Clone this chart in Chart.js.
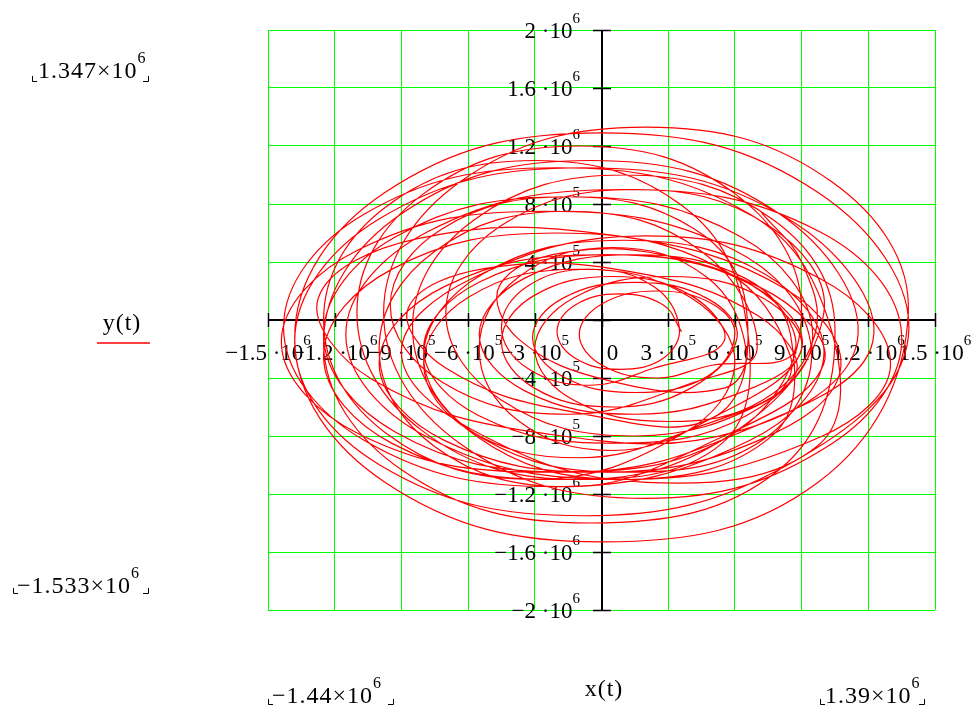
<!DOCTYPE html>
<html>
<head>
<meta charset="utf-8">
<script src="https://cdn.jsdelivr.net/npm/chart.js@4.4.0/dist/chart.umd.min.js"></script>
<style>
  html, body { margin: 0; padding: 0; background: #fff; }
  #wrap { width: 974px; height: 708px; }
</style>
</head>
<body>
<div id="wrap"><canvas id="myChart" width="974" height="708"></canvas></div>
<script>
// trajectory x(t), y(t), in units of 1e5 (one loop per row)
const trajX = [
  3.6, 2.78, 0.8, -1.18, -2.0, -1.18, 0.8, 2.78,
  3.5, 2.33, -0.5, -3.33, -4.5, -3.33, -0.5, 2.33,
  5.5, 4.04, 0.5, -3.04, -4.5, -3.04, 0.5, 4.04,
  6.1, 4.75, 1.5, -1.75, -3.1, -1.75, 1.5, 4.75,
  6.0, 4.97, 2.5, 0.03, -1.0, 0.03, 2.5, 4.97,
  8.58, 7.74, 3.54, -1.56, -4.58, -3.74, 0.46, 5.56,
  6.5, 4.74, 0.5, -3.74, -5.5, -3.74, 0.5, 4.74,
  9.0, 6.51, 0.5, -5.51, -8.0, -5.51, 0.5, 6.51,
  9.5, 6.28, -1.5, -9.28, -12.5, -9.28, -1.5, 6.28,
  12.2, 8.39, -0.8, -9.99, -13.8, -9.99, -0.8, 8.39,
  13.8, 9.76, 0.0, -9.76, -13.8, -9.76, 0.0, 9.76,
  13.8, 10.34, 2.0, -6.34, -9.8, -6.34, 2.0, 10.34,
  13.5, 9.84, 1.0, -7.84, -11.5, -7.84, 1.0, 9.84,
  13.0, 9.78, 2.0, -5.78, -9.0, -5.78, 2.0, 9.78,
  10.3, 6.7, -2.0, -10.7, -14.3, -10.7, -2.0, 6.7,
  10.0, 7.36, 1.0, -5.36, -8.0, -5.36, 1.0, 7.36,
  9.4, 5.91, -2.5, -10.91, -14.4, -10.91, -2.5, 5.91,
  9.0, 6.07, -1.0, -8.07, -11.0, -8.07, -1.0, 6.07,
  10.0, 7.51, 1.5, -4.51, -7.0, -4.51, 1.5, 7.51,
  8.5, 5.42, -2.0, -9.42, -12.5, -9.42, -2.0, 5.42,
  6.5, 3.72, -3.0, -9.72, -12.5, -9.72, -3.0, 3.72,
  6.0, 3.95, -1.0, -5.95, -8.0, -5.95, -1.0, 3.95,
  8.69, 7.06, 1.30, -5.22, -8.69, -7.06, -1.30, 5.22,
  6.5, 4.16, -1.5, -7.16, -9.5, -7.16, -1.5, 4.16,
  7.0, 4.51, -1.5, -7.51, -10.0, -7.51, -1.5, 4.51,
  10.0, 7.07, 0.0, -7.07, -10.0, -7.07, 0.0, 7.07,
  10.74, 8.33, 0.46, -8.27, -12.74, -10.33, -2.46, 6.27,
  11.5, 7.98, -0.5, -8.98, -12.5, -8.98, -0.5, 7.98,
  10.5, 7.72, 1.0, -5.72, -8.5, -5.72, 1.0, 7.72,
  8.5, 6.45, 1.5, -3.45, -5.5, -3.45, 1.5, 6.45,
  9.0, 7.24, 3.0, -1.24, -3.0, -1.24, 3.0, 7.24,
  9.6, 9.0, 7.2
];
const trajY = [
  -0.8, 1.04, 1.8, 1.04, -0.8, -2.64, -3.4, -2.64,
  -0.5, 2.33, 3.5, 2.33, -0.5, -3.33, -4.5, -3.33,
  -1.5, 1.68, 3.0, 1.68, -1.5, -4.68, -6.0, -4.68,
  -1.2, 1.49, 2.6, 1.49, -1.2, -3.89, -5.0, -3.89,
  -1.0, 1.12, 2.0, 1.12, -1.0, -3.12, -4.0, -3.12,
  -2.39, 1.30, 4.23, 4.68, 2.39, -1.30, -4.23, -4.68,
  -2.0, 2.95, 5.0, 2.95, -2.0, -6.95, -9.0, -6.95,
  -2.0, 2.6, 4.5, 2.6, -2.0, -6.6, -8.5, -6.6,
  -1.0, 5.72, 8.5, 5.72, -1.0, -7.72, -10.5, -7.72,
  -1.5, 6.98, 10.5, 6.98, -1.5, -9.98, -13.5, -9.98,
  -1.2, 8.77, 12.9, 8.77, -1.2, -11.17, -15.3, -11.17,
  0.5, 9.55, 13.3, 9.55, 0.5, -8.55, -12.3, -8.55,
  -1.0, 6.07, 9.0, 6.07, -1.0, -8.07, -11.0, -8.07,
  -3.0, 2.9, 5.8, 2.9, -2.2, -7.6, -11.2, -8.6,
  -0.5, 7.28, 10.5, 7.28, -0.5, -8.28, -11.5, -8.28,
  -2.5, 3.16, 5.5, 3.16, -2.5, -8.16, -10.5, -8.16,
  -1.5, 4.86, 7.5, 4.86, -1.5, -7.86, -10.5, -7.86,
  0.5, 8.63, 12.0, 8.63, 0.5, -7.63, -11.0, -7.63,
  0.5, 6.51, 9.0, 6.51, 0.5, -5.51, -8.0, -5.51,
  -2.5, 3.51, 6.0, 3.51, -2.5, -8.51, -11.0, -8.51,
  0.0, 7.78, 11.0, 7.78, 0.0, -7.78, -11.0, -7.78,
  -3.0, 1.6, 3.5, 1.6, -3.0, -7.6, -9.5, -7.6,
  -3.83, 0.27, 3.33, 3.56, 0.83, -3.26, -6.33, -6.56,
  1.0, 6.3, 8.5, 6.3, 1.0, -4.3, -6.5, -4.3,
  -2.0, 4.72, 7.5, 4.72, -2.0, -8.72, -11.5, -8.72,
  -3.0, 2.3, 4.5, 2.3, -3.0, -8.3, -10.5, -8.3,
  -3.50, 2.08, 5.85, 5.61, 1.50, -4.08, -7.85, -7.61,
  -1.5, 7.34, 11.0, 7.34, -1.5, -10.34, -14.0, -10.34,
  -0.5, 6.92, 10.0, 6.92, -0.5, -7.92, -11.0, -7.92,
  -1.0, 2.89, 4.5, 2.89, -1.0, -4.89, -6.5, -4.89,
  -2.0, 1.54, 3.0, 1.54, -2.0, -5.54, -7.0, -5.54,
  -1.0, 4.0, 7.4
];

// axis ticks
const xTicks = [-1.5e6, -1.2e6, -9e5, -6e5, -3e5, 0, 3e5, 6e5, 9e5, 1.2e6, 1.5e6];
const xTickMant = ["\u22121.5", "\u22121.2", "\u22129", "\u22126", "\u22123", "0", "3", "6", "9", "1.2", "1.5"];
const xTickExp = ["6", "6", "5", "5", "5", "", "5", "5", "5", "6", "6"];
const yTicks = [-2e6, -1.6e6, -1.2e6, -8e5, -4e5, 0, 4e5, 8e5, 1.2e6, 1.6e6, 2e6];
const yTickMant = ["\u22122", "\u22121.6", "\u22121.2", "\u22128", "\u22124", "", "4", "8", "1.2", "1.6", "2"];
const yTickExp = ["6", "6", "6", "5", "5", "", "5", "5", "6", "6", "6"];

// plot range readouts
const yMaxText = ["1.347", "6"];
const yMinText = ["\u22121.533", "6"];
const xMinText = ["\u22121.44", "6"];
const xMaxText = ["1.39", "6"];

const points = trajX.map((v, i) => ({ x: v * 1e5, y: trajY[i] * 1e5 }));

const SERIF = '"Liberation Serif", "Times New Roman", serif';

function drawSci(ctx, mant, sep, exp, x, base, size, supSize, align, spacing) {
  ctx.letterSpacing = (spacing || 0) + "px";
  ctx.font = size + "px " + SERIF;
  const main = exp ? mant + sep : mant;
  const w1 = ctx.measureText(main).width;
  ctx.font = supSize + "px " + SERIF;
  const w2 = exp ? ctx.measureText(exp).width : 0;
  let sx = x;
  if (align === "center") sx = x - (w1 + w2) / 2;
  if (align === "right") sx = x - (w1 + w2);
  ctx.textAlign = "left";
  ctx.textBaseline = "alphabetic";
  ctx.font = size + "px " + SERIF;
  ctx.fillText(main, sx, base);
  if (exp) {
    ctx.font = supSize + "px " + SERIF;
    ctx.fillText(exp, sx + w1, base - 15);
  }
  ctx.letterSpacing = "0px";
}

function drawBrackets(ctx, left, right, bottom) {
  ctx.beginPath();
  ctx.moveTo(left + 0.5, bottom - 5);
  ctx.lineTo(left + 0.5, bottom + 0.5);
  ctx.lineTo(left + 5, bottom + 0.5);
  ctx.moveTo(right - 5, bottom + 0.5);
  ctx.lineTo(right + 0.5, bottom + 0.5);
  ctx.lineTo(right + 0.5, bottom - 5);
  ctx.stroke();
}

const mathcadAxes = {
  id: "mathcadAxes",
  beforeDatasetsDraw(chart) {
    const { ctx, chartArea: a, scales } = chart;
    const x0 = Math.round(scales.x.getPixelForValue(0));
    const y0 = Math.round(scales.y.getPixelForValue(0));
    ctx.save();
    ctx.strokeStyle = "#000";
    ctx.lineWidth = 2;
    ctx.beginPath();
    ctx.moveTo(a.left, y0);
    ctx.lineTo(a.right, y0);
    ctx.moveTo(x0, a.top);
    ctx.lineTo(x0, a.bottom);
    ctx.stroke();

    ctx.lineWidth = 1.5;
    ctx.beginPath();
    xTicks.forEach((v) => {
      const px = Math.round(scales.x.getPixelForValue(v)) + 0.5;
      ctx.moveTo(px, y0 - 7);
      ctx.lineTo(px, y0 + 7);
    });
    yTicks.forEach((v) => {
      const py = Math.round(scales.y.getPixelForValue(v)) + 0.5;
      ctx.moveTo(x0 - 9, py);
      ctx.lineTo(x0 + 9, py);
    });
    ctx.stroke();

    ctx.fillStyle = "#000";
    xTicks.forEach((v, i) => {
      const px = scales.x.getPixelForValue(v);
      if (v === 0) {
        drawSci(ctx, "0", "", "", px + 11, y0 + 40, 23, 15, "center");
      } else {
        drawSci(ctx, xTickMant[i], " \u00b710", xTickExp[i], px, y0 + 40, 23, 15, "center");
      }
    });
    yTicks.forEach((v, i) => {
      if (!yTickMant[i]) return;
      const py = scales.y.getPixelForValue(v);
      drawSci(ctx, yTickMant[i], " \u00b710", yTickExp[i], 580, py + 8, 23, 15, "right");
    });
    ctx.restore();
  },
  afterDraw(chart) {
    const { ctx } = chart;
    ctx.save();
    ctx.fillStyle = "#000";
    ctx.strokeStyle = "#000";
    ctx.lineWidth = 1;

    drawSci(ctx, yMaxText[0], "\u00d710", yMaxText[1], 38, 78, 24, 16, "left", 1);
    drawBrackets(ctx, 32, 148, 81);
    drawSci(ctx, yMinText[0], "\u00d710", yMinText[1], 17, 593, 24, 16, "left", 1);
    drawBrackets(ctx, 13, 148, 593);
    drawSci(ctx, xMinText[0], "\u00d710", xMinText[1], 272, 703, 24, 16, "left", 1);
    drawBrackets(ctx, 268, 393, 704);
    drawSci(ctx, xMaxText[0], "\u00d710", xMaxText[1], 825, 703, 24, 16, "left", 1);
    drawBrackets(ctx, 820, 924, 704);

    ctx.font = "24px " + SERIF;
    ctx.textAlign = "center";
    ctx.letterSpacing = "1px";
    ctx.fillText("x(t)", 604, 696);
    ctx.fillText("y(t)", 122, 330);
    ctx.letterSpacing = "0px";
    ctx.strokeStyle = "#ff0000";
    ctx.lineWidth = 1.5;
    ctx.beginPath();
    ctx.moveTo(97, 343);
    ctx.lineTo(150, 343);
    ctx.stroke();
    ctx.restore();
  }
};

const ctx = document.getElementById("myChart").getContext("2d");
const myChart = new Chart(ctx, {
  type: "scatter",
  data: {
    datasets: [
      {
        label: "y(t)",
        data: points,
        showLine: true,
        tension: 0.4,
        borderColor: "#ff0000",
        borderWidth: 1.2,
        pointRadius: 0,
        fill: false,
      },
    ],
  },
  options: {
    responsive: false,
    animation: false,
    devicePixelRatio: 1,
    layout: { padding: { left: 268, right: 39, top: 30, bottom: 98 } },
    plugins: { legend: { display: false }, tooltip: { enabled: false } },
    scales: {
      x: {
        type: "linear",
        min: -1.5e6,
        max: 1.5e6,
        afterBuildTicks: (axis) => { axis.ticks = xTicks.map((v) => ({ value: v })); },
        ticks: { display: false },
        grid: { color: "#00ff00", lineWidth: 1, drawTicks: false },
        border: { display: false },
      },
      y: {
        type: "linear",
        min: -2e6,
        max: 2e6,
        afterBuildTicks: (axis) => { axis.ticks = yTicks.map((v) => ({ value: v })); },
        ticks: { display: false },
        grid: { color: "#00ff00", lineWidth: 1, drawTicks: false },
        border: { display: false },
      },
    },
  },
  plugins: [mathcadAxes],
});
</script>
</body>
</html>
